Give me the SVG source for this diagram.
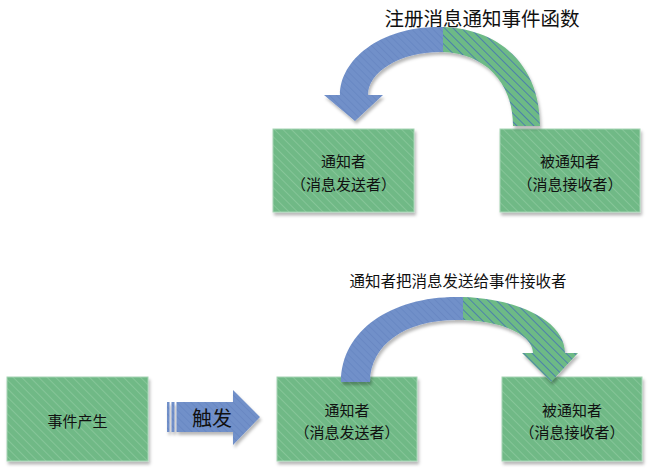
<svg xmlns="http://www.w3.org/2000/svg" width="651" height="473" viewBox="0 0 651 473">
<defs>
  <pattern id="boxPat" width="6" height="6" patternUnits="userSpaceOnUse" patternTransform="rotate(-45)">
    <rect width="6" height="6" fill="#6fb986"/>
    <line x1="0" y1="0" x2="0" y2="6" stroke="#86c598" stroke-width="2"/>
  </pattern>
  <pattern id="bluePat" width="5" height="5" patternUnits="userSpaceOnUse" patternTransform="rotate(-45)">
    <rect width="5" height="5" fill="#7190c9"/>
    <line x1="0" y1="0" x2="0" y2="5" stroke="#6383c0" stroke-width="1.2"/>
  </pattern>
  <pattern id="gbPat" width="6" height="6" patternUnits="userSpaceOnUse" patternTransform="rotate(-45)">
    <rect width="6" height="6" fill="#6dba86"/>
    <line x1="0" y1="0" x2="0" y2="6" stroke="#3d62c0" stroke-width="1.3"/>
  </pattern>
  <filter id="shadow" x="-20%" y="-20%" width="140%" height="140%">
    <feDropShadow dx="1.5" dy="3" stdDeviation="1.8" flood-color="#000" flood-opacity="0.28"/>
  </filter>
  <clipPath id="topLeft"><rect x="0" y="0" width="443" height="200"/></clipPath>
  <clipPath id="topRight"><rect x="443" y="0" width="208" height="200"/></clipPath>
  <clipPath id="botLeft"><rect x="0" y="250" width="463" height="200"/></clipPath>
  <clipPath id="botRight"><rect x="463" y="250" width="188" height="200"/></clipPath>
  <path id="topArc" d="M 540 126 C 540 62, 496 27, 438 27 C 380 27, 340 60, 340 95 L 324 95 L 355 121 L 383 95 L 368 95 C 368 72, 400 52, 440 52 C 482 52, 513 80, 513 126 Z"/>
  <path id="botArc" d="M 341 382 C 341 330, 392 297, 456 297 C 515 297, 565 320, 565 353 L 578 353 L 551 382 L 522 353 L 533 353 C 533 335, 502 320, 456 320 C 405 320, 370 345, 370 382 Z"/>
</defs>
<style>
  .box { fill: url(#boxPat); stroke: #a6d4b4; stroke-width: 1; filter: url(#shadow); }
  .lbl { font-family: "Noto Sans CJK SC", sans-serif; font-size: 15px; fill: #111; text-anchor: middle; dominant-baseline: central; }
  .title { font-family: "Noto Sans CJK SC", sans-serif; fill: #111; text-anchor: middle; dominant-baseline: central; }
</style>
<rect width="651" height="473" fill="#ffffff"/>

<g id="title-register"><text class="title" x="482" y="17" font-size="19.5">注册消息通知事件函数</text></g>
<g id="title-send"><text class="title" x="458" y="280" font-size="15.5">通知者把消息发送给事件接收者</text></g>

<g id="node-notifier-top">
  <rect class="box" x="273" y="129" width="141" height="83"/>
  <text class="lbl" x="343.5" y="160">通知者</text>
  <text class="lbl" x="343.5" y="183">（消息发送者）</text>
</g>
<g id="node-receiver-top">
  <rect class="box" x="500" y="129" width="140" height="83"/>
  <text class="lbl" x="570" y="160">被通知者</text>
  <text class="lbl" x="570" y="183">（消息接收者）</text>
</g>
<g id="node-event">
  <rect class="box" x="7" y="377" width="141" height="84"/>
  <text class="lbl" x="77.5" y="420">事件产生</text>
</g>
<g id="node-notifier-bottom">
  <rect class="box" x="277" y="377" width="140" height="84"/>
  <text class="lbl" x="347" y="409">通知者</text>
  <text class="lbl" x="347" y="431">（消息发送者）</text>
</g>
<g id="node-receiver-bottom">
  <rect class="box" x="502" y="377" width="140" height="84"/>
  <text class="lbl" x="572" y="409">被通知者</text>
  <text class="lbl" x="572" y="431">（消息接收者）</text>
</g>

<g id="connectors">
  <g id="register-arrow" filter="url(#shadow)">
    <use href="#topArc" fill="url(#bluePat)" clip-path="url(#topLeft)"/>
    <use href="#topArc" fill="url(#gbPat)" clip-path="url(#topRight)"/>
  </g>
  <g id="send-arrow" filter="url(#shadow)">
    <use href="#botArc" fill="url(#bluePat)" clip-path="url(#botLeft)"/>
    <use href="#botArc" fill="url(#gbPat)" clip-path="url(#botRight)"/>
  </g>
  <g id="trigger-arrow" filter="url(#shadow)">
    <rect x="167" y="402" width="2.5" height="30" fill="url(#bluePat)"/>
    <rect x="171.5" y="402" width="3" height="30" fill="url(#bluePat)"/>
    <path d="M 176.5 402 L 233 402 L 233 390 L 260 417 L 233 445 L 233 432 L 176.5 432 Z" fill="url(#bluePat)"/>
  </g>
  <text class="title" x="212" y="417" font-size="20">触发</text>
</g>
</svg>
